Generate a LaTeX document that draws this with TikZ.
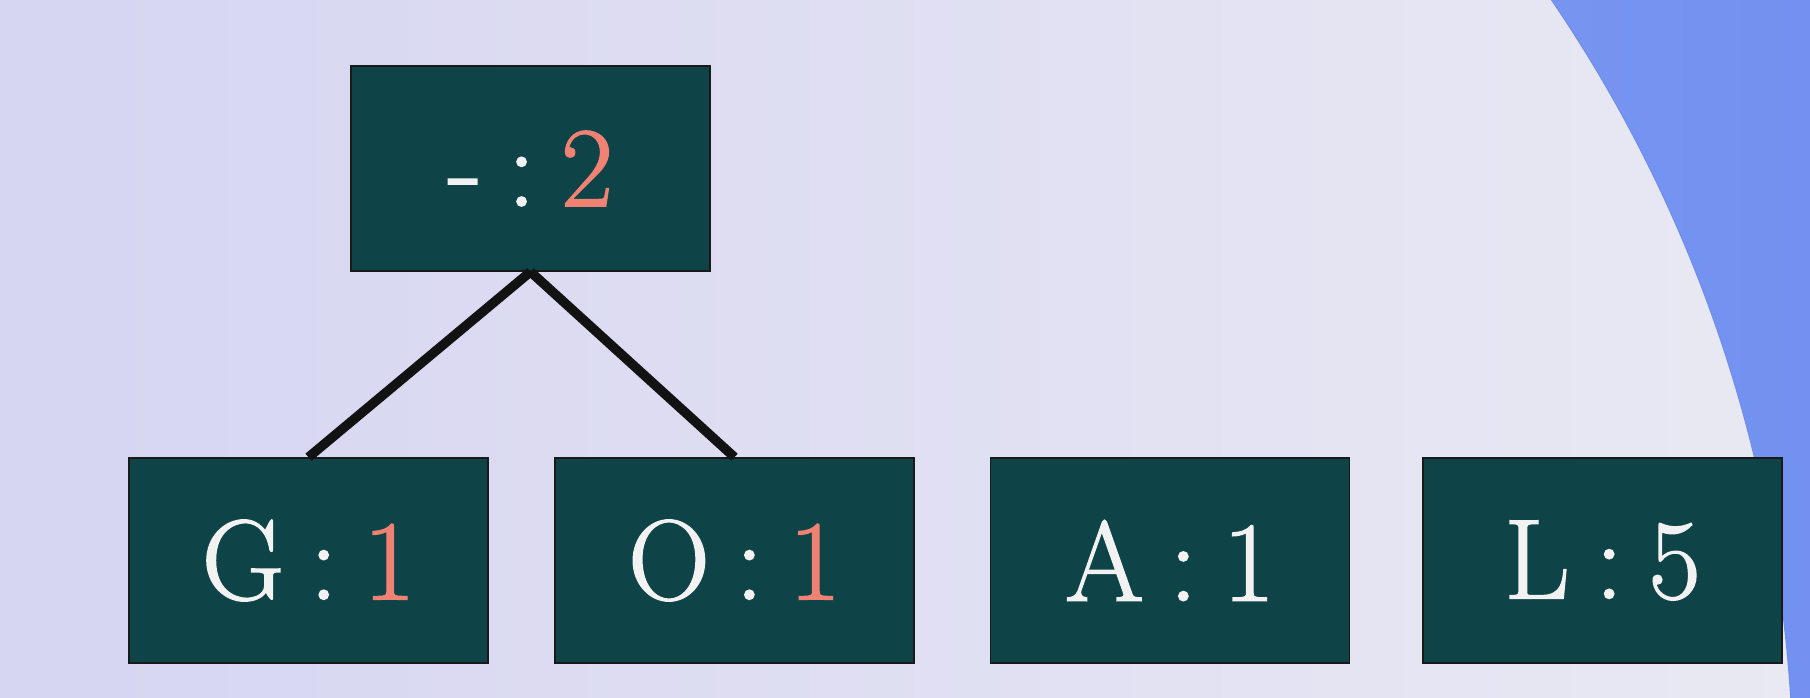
\documentclass[tikz,border=0pt]{standalone}
\usepackage{fontspec}
\newfontfamily\boxfont{Latin Modern Roman}[FakeBold=1.2]
\definecolor{nodefill}{HTML}{0E4448}
\definecolor{salmon}{HTML}{F08274}
\definecolor{txt}{HTML}{F2F2F2}
\definecolor{bgL}{HTML}{D6D5F2}
\definecolor{bgR}{HTML}{E9E9F3}
\definecolor{blueL}{HTML}{8AA0F0}
\definecolor{blueR}{HTML}{7291F0}
\definecolor{blueEdge}{HTML}{6F8EF2}
\newcommand{\gsep}{\kern0.22em}
\begin{document}
\begin{tikzpicture}[x=1pt,y=-1pt,
  box/.style={draw=black!90, line width=1.5pt, fill=nodefill, minimum width=359pt, minimum height=205pt, inner sep=0pt, text=txt, font=\boxfont\fontsize{114}{120}\selectfont},
  edge/.style={draw=black!93, line width=9.5pt}]
\useasboundingbox (0,0) rectangle (1810,698);
\clip (0,0) rectangle (1810,698);
\shade[left color=bgL, right color=bgR] (0,0) rectangle (1810,698);
\shade[left color=blueL, right color=blueR] (399.5,784.8) ++(35:1394pt) arc[start angle=35, end angle=0, radius=1394pt] -- (1830,784.8) -- (1830,-30) -- cycle;
\draw[blueEdge, line width=1.2pt] (399.5,784.8) ++(35:1394pt) arc[start angle=35, end angle=0, radius=1394pt];
\node[box] (root) at (530.5,168.5) {-\gsep:\gsep\textcolor{salmon}{2}};
\node[box] (g) at (308.5,560.5) {G\gsep:\gsep\textcolor{salmon}{1}};
\node[box] (o) at (734.5,560.5) {O\gsep:\gsep\textcolor{salmon}{1}};
\node[box] (a) at (1170,560.5) {A\gsep:\gsep1};
\node[box] (l) at (1602.5,560.5) {L\gsep:\gsep5};
\draw[edge] (root.south) -- (g.north);
\draw[edge] (root.south) -- (o.north);
\end{tikzpicture}
\end{document}
